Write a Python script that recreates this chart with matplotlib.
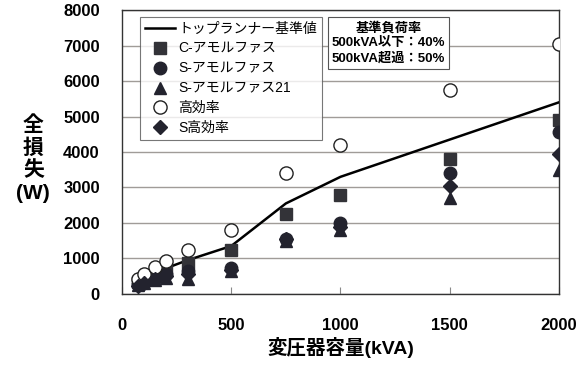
import matplotlib.pyplot as plt

plt.rcParams['font.family'] = ['Liberation Sans', 'Noto Sans CJK JP', 'DejaVu Sans']

# capacities (kVA)
kva = [75, 100, 150, 200, 300, 500, 750, 1000, 1500, 2000]

# total loss (W)
top_runner = [350, 430, 600, 720, 950, 1350, 2550, 3300, 4350, 5400]
c_amorphous = [330, 400, 520, 700, 870, 1250, 2250, 2800, 3800, 4900]
s_amorphous = [280, 350, 450, 550, 650, 720, 1550, 2000, 3400, 4550]
s_amorphous21 = [250, 300, 380, 450, 420, 650, 1500, 1800, 2700, 3500]
high_eff = [430, 550, 750, 930, 1250, 1800, 3400, 4200, 5750, 7050]
s_high_eff = [230, 320, 420, 500, 550, 680, 1550, 1900, 3050, 3950]

fig = plt.figure(figsize=(5.85, 3.73), dpi=100)
ax = fig.add_axes([0.2085, 0.212, 0.747, 0.761])

mk = '#23232e'
ax.plot(kva, top_runner, color='black', lw=1.8, label='トップランナー基準値', zorder=3)
ax.plot(kva, c_amorphous, 's', ms=8.5, color='#333338', ls='none', label='C-アモルファス', zorder=4)
ax.plot(kva, s_amorphous, 'o', ms=9, color=mk, ls='none', label='S-アモルファス', zorder=4)
ax.plot(kva, s_amorphous21, '^', ms=9, color=mk, ls='none', label='S-アモルファス21', zorder=4)
ax.plot(kva, high_eff, 'o', ms=9.5, mfc='white', mec='#222222', mew=1.0, ls='none', label='高効率', zorder=4)
ax.plot(kva, s_high_eff, 'D', ms=7, color=mk, ls='none', label='S高効率', zorder=4)

ax.set_xlim(0, 2000)
ax.set_ylim(0, 8000)
ax.set_xticks([0, 500, 1000, 1500, 2000])
ax.set_yticks(range(0, 8001, 1000))
ax.yaxis.grid(True, color='#a09c98', lw=1.0)
ax.set_axisbelow(True)
ax.tick_params(axis='y', length=0, pad=16, labelsize=12)
ax.tick_params(axis='x', direction='in', length=5, pad=17, labelsize=12, color='#888888')
for lab in ax.get_xticklabels() + ax.get_yticklabels():
    lab.set_fontweight('bold')
for sp in ax.spines.values():
    sp.set_color('#333333')
    sp.set_linewidth(1.0)

ax.set_xlabel('変圧器容量(kVA)', fontsize=14, fontweight='bold', labelpad=3)
fig.text(0.057, 0.574, '全\n損\n失\n(W)', fontsize=15, fontweight='bold',
         ha='center', va='center', linespacing=1.2)

leg = ax.legend(loc='upper left', bbox_to_anchor=(0.035, 0.985), fontsize=10,
                frameon=True, fancybox=False, edgecolor='#555555',
                borderpad=0.35, labelspacing=0.42, handlelength=2.2,
                handletextpad=0.2, borderaxespad=0.2)
leg.get_frame().set_linewidth(0.8)

ax.text(0.61, 0.96, '基準負荷率\n500kVA以下：40%\n500kVA超過：50%',
        transform=ax.transAxes, ha='center', va='top', fontsize=9.5,
        fontweight='bold', linespacing=1.35, zorder=6,
        bbox=dict(boxstyle='square,pad=0.3', fc='white', ec='#555555', lw=0.8))

fig.savefig('out.png', dpi=100)
